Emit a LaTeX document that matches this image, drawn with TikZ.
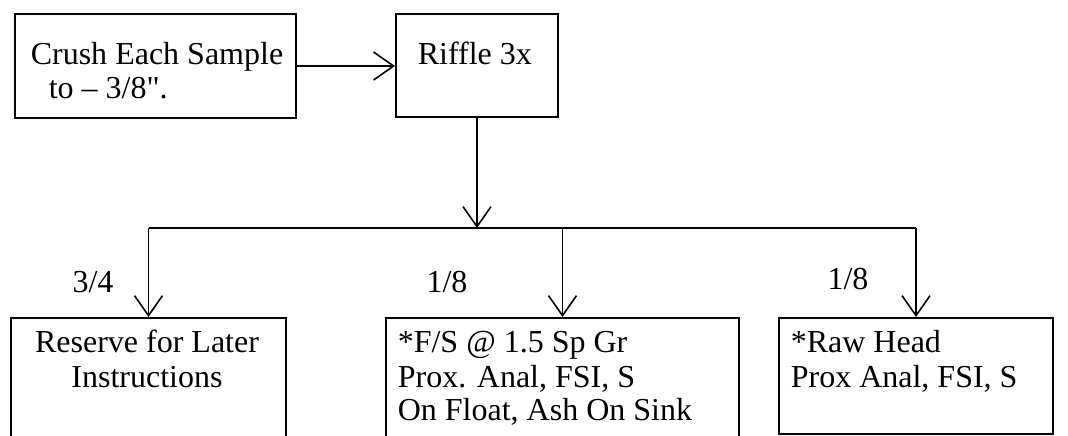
\documentclass[tikz,border=0pt]{standalone}
\usepackage{fontspec}
\setmainfont{Liberation Serif}
\usetikzlibrary{arrows.meta}

\begin{document}
\begin{tikzpicture}[x=0.5pt, y=-0.5pt, line width=0.8pt,
    >={Straight Barb[length=10pt, width=14pt]},
    box/.style={draw, line width=1pt, anchor=north west, inner sep=0pt},
    txt/.style={anchor=base west, inner sep=0pt, font=\fontsize{16pt}{17.5pt}\selectfont},
    frac/.style={anchor=base, inner sep=0pt, font=\fontsize{16pt}{17.5pt}\selectfont}]
    \useasboundingbox (0,0) rectangle (1068,435);
    \clip (0,0) rectangle (1068,435);

    \node[box, minimum width=140.5pt, minimum height=52pt] (crush) at (14,13) {};
    \node[box, minimum width=81pt, minimum height=51.5pt] (riffle) at (395,13) {};
    \node[box, minimum width=137.5pt, minimum height=70pt] (reserve) at (10,317) {};
    \node[box, minimum width=176.5pt, minimum height=70pt] (fs) at (385,317) {};
    \node[box, minimum width=137pt, minimum height=58pt] (raw) at (778,317) {};

    \node[txt] (crushA) at (30,64) {Crush Each Sample};
    \node[txt] (crushB) at (48,98) {to -- 3/8\textquotedbl.};
    \node[txt] (riffleA) at (417,64) {Riffle 3x};
    \node[txt, anchor=base] (reserveA) at (147,352) {Reserve for Later};
    \node[txt, anchor=base] (reserveB) at (147,387) {Instructions};
    \node[txt] (fsA) at (397,352) {*F/S @ 1.5 Sp Gr};
    \node[txt] (fsB) at (397,387) {Prox. Anal, FSI, S};
    \node[txt] (fsC) at (397,420) {On Float, Ash On Sink};
    \node[txt] (rawA) at (790,352) {*Raw Head};
    \node[txt] (rawB) at (790,387) {Prox Anal, FSI, S};

    \node[frac] (qa) at (93,292) {3/4};
    \node[frac] (qb) at (447,292) {1/8};
    \node[frac] (qc) at (848,289) {1/8};

    \coordinate (split) at (riffle.south |- 0,228);
    \coordinate (jl) at (reserve.north |- split);
    \coordinate (jm) at (fs.north |- split);
    \coordinate (jr) at (raw.north |- split);

    \draw[->] (crush.east) -- (crush.east -| riffle.west);
    \draw[->] (riffle) -- (split);
    \draw (jl) -- (jr);
    \draw[->] (jl) -- (reserve);
    \draw[->] (jm) -- (fs);
    \draw[->] (jr) -- (raw);
\end{tikzpicture}
\end{document}
